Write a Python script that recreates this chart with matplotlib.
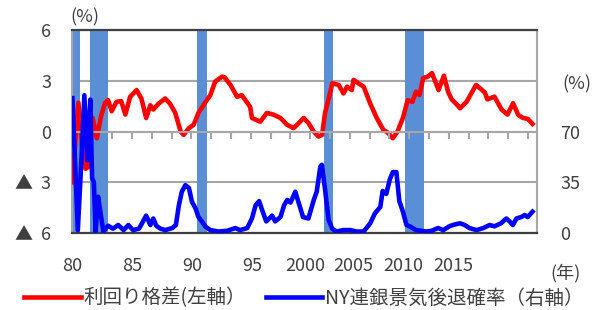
"""
Yield spread vs. NY Fed recession probability, with US recessions shaded
"""

import matplotlib
matplotlib.use('Agg')
import matplotlib.pyplot as plt

plt.rcParams['font.family'] = ['Noto Sans CJK JP', 'DejaVu Sans']

# Yield spread (left axis, %)
spread_years = [1980.0, 1980.25, 1980.5, 1980.8, 1981.1, 1981.35, 1981.7, 1982.05,
                1982.4, 1982.75, 1983.0, 1983.3, 1983.7, 1984.1, 1984.45, 1984.85,
                1985.4, 1985.8, 1986.2, 1986.55, 1986.8, 1987.25, 1987.8, 1988.2,
                1988.65, 1989.1, 1989.35, 1989.8, 1990.2, 1990.6, 1991.2, 1991.6,
                1992.0, 1992.6, 1992.8, 1993.3, 1993.85, 1994.25, 1994.95, 1995.1,
                1995.8, 1996.35, 1996.9, 1997.5, 1998.05, 1998.6, 1998.9, 1999.45,
                1999.85, 2000.3, 2000.7, 2001.0, 2001.25, 2001.7, 2001.85, 2002.4,
                2002.8, 2003.1, 2003.5, 2003.65, 2004.05, 2004.5, 2005.05, 2005.6,
                2006.15, 2006.5, 2006.95, 2007.35, 2007.8, 2008.2, 2008.6, 2008.9,
                2009.2, 2009.5, 2009.9, 2010.25, 2010.8, 2011.25, 2011.6, 2011.9,
                2012.4, 2012.6, 2013.15, 2013.95, 2014.3, 2014.7, 2014.9, 2015.5,
                2016.1, 2016.6, 2017.07, 2017.5, 2017.9, 2018.3, 2018.7]
spread_vals = [-3.0, -0.5, 1.7, -0.8, -2.2, -2.1, 0.8, -0.4,
               0.9, 1.7, 1.85, 1.2, 1.75, 1.8, 1.0, 2.05,
               2.45, 1.95, 0.8, 1.55, 1.3, 1.65, 1.95, 1.65,
               1.1, 0.0, -0.2, 0.2, 0.4, 1.1, 1.75, 2.15,
               2.95, 3.25, 3.2, 2.75, 2.05, 2.15, 1.45, 0.8,
               0.58, 1.1, 1.0, 0.8, 0.4, 0.2, 0.4, 0.8,
               0.5, 0.0, -0.3, -0.2, 1.1, 2.35, 2.85, 2.75,
               2.25, 2.65, 2.45, 3.05, 2.85, 2.65, 1.65, 0.8,
               0.1, -0.05, -0.4, 0.0, 0.8, 1.85, 1.75, 2.35,
               2.15, 3.15, 3.25, 3.45, 2.45, 3.3, 2.35, 1.9,
               1.55, 1.37, 1.75, 2.75, 2.55, 2.3, 1.9, 2.06,
               1.3, 1.0, 1.67, 0.98, 0.8, 0.75, 0.45]

# NY Fed recession probability (right axis, %)
prob_years = [1980.0, 1980.45, 1980.75, 1981.0, 1981.25, 1981.5, 1981.65, 1981.8,
              1981.95, 1982.15, 1982.3, 1982.6, 1983.0, 1983.4, 1983.85, 1984.3,
              1984.7, 1985.1, 1985.6, 1986.2, 1986.55, 1986.8, 1987.05, 1987.4,
              1987.8, 1988.4, 1988.7, 1988.95, 1989.2, 1989.5, 1989.8, 1990.05,
              1990.35, 1990.6, 1990.9, 1991.2, 1991.6, 1992.3, 1993.0, 1993.7,
              1994.1, 1994.7, 1995.1, 1995.4, 1995.7, 1995.95, 1996.3, 1996.8,
              1997.05, 1997.5, 1997.8, 1998.07, 1998.35, 1998.75, 1998.95, 1999.4,
              1999.85, 2000.3, 2000.55, 2000.85, 2000.98, 2001.25, 2001.55, 2001.85,
              2002.2, 2002.8, 2003.4, 2003.9, 2004.5, 2005.05, 2005.45, 2005.9,
              2006.1, 2006.4, 2006.7, 2006.95, 2007.25, 2007.5, 2007.8, 2008.1,
              2008.4, 2008.9, 2009.75, 2010.2, 2010.75, 2011.2, 2011.7, 2012.0,
              2012.6, 2013.0, 2013.4, 2014.0, 2014.55, 2015.1, 2015.5, 2016.05,
              2016.5, 2016.8, 2017.05, 2017.35, 2017.75, 2018.05, 2018.3, 2018.7]
prob_vals = [93, 2, 50, 95, 50, 92, 38, 35,
             1, 25, 17, 1, 5, 3, 5.5, 2,
             5.5, 2, 3, 12, 5.5, 10, 5, 3,
             2, 3.4, 5.5, 19, 28.5, 33, 31, 21.6,
             17, 11, 7.8, 4.3, 2, 1, 1.5, 3.4,
             2, 3.4, 10, 19, 22, 16, 8, 12,
             8, 11, 19, 22.8, 21, 28.5, 23, 11,
             10, 22.8, 28.5, 45.7, 47, 30, 9, 3,
             1, 2, 2, 1, 1, 6.7, 13.6, 18,
             29, 27, 37, 42, 42, 22, 14.7, 5.5,
             4.5, 2, 1, 1.5, 3.4, 2, 4.6, 5.5,
             6.7, 5.5, 3.4, 2, 3.4, 5.5, 4.6, 6.7,
             10, 7.8, 5.5, 10, 11, 12.4, 11, 14.7]

# US recessions
rec_start = [1980.0, 1981.45, 1990.5, 2001.2, 2007.95]
rec_end = [1980.6, 1982.95, 1991.3, 2001.95, 2009.6]

# Axis labels
x_labels = ['80', '85', '90', '95', '2000', '2005', '2010', '2015']
x_label_pos = [1979.96, 1985.02, 1990.06, 1995.1, 1999.6, 2003.6, 2007.8, 2012.0]
left_ticks = [6, 3, 0, -3, -6]
left_labels = ['6', '3', '0', '▲  3', '▲  6']
right_ticks = [0, 35, 70]

text_color = '#404040'
grid_color = '#a6a6a6'

fig = plt.figure(figsize=(6.08, 3.10), dpi=100)
ax = fig.add_axes([0.1184, 0.2484, 0.7648, 0.6548])
ax2 = ax.twinx()

# Recession shading
for s, e in zip(rec_start, rec_end):
    ax.axvspan(s, e, color='#5a8fd6', lw=0, zorder=1)

# Lines
line1, = ax.plot(spread_years, spread_vals, color='#ff0000', lw=3.3,
                 solid_joinstyle='round', zorder=3, label='利回り格差(左軸）')
line2, = ax2.plot(prob_years, prob_vals, color='#0000ff', lw=3.3,
                  solid_joinstyle='round', zorder=3, label='NY連銀景気後退確率（右軸）')

ax.set_xlim(1980, 2019.08)
ax.set_ylim(-6, 6)
ax2.set_ylim(0, 140)

# Left axis
ax.set_yticks(left_ticks, left_labels)
ax.tick_params(axis='y', length=0, pad=15, labelsize=13, labelcolor=text_color)
ax.set_axisbelow(True)
ax.yaxis.grid(True, color=grid_color, lw=1.5)

# Right axis
ax2.set_yticks(right_ticks)
ax2.tick_params(axis='y', length=0, pad=17, labelsize=13, labelcolor=text_color)

# x labels (major) and small ticks every 20 months (minor)
ax.set_xticks(x_label_pos, x_labels)
ax.set_xticks([1980 + k * 20 / 12 for k in range(24)], minor=True)
ax.tick_params(axis='x', which='major', length=0, pad=17, labelsize=13, labelcolor=text_color)
ax.tick_params(axis='x', which='minor', length=0)

# Zero line carries the small ticks
ax2.xaxis.set_visible(True)
ax2.spines['bottom'].set_visible(True)
ax2.spines['bottom'].set_position(('axes', 0.5))
ax2.spines['bottom'].set_color(grid_color)
ax2.spines['bottom'].set_linewidth(1.5)
ax2.xaxis.set_ticks_position('bottom')
ax2.tick_params(axis='x', which='major', length=0, labelbottom=False, labeltop=False)
ax2.tick_params(axis='x', which='minor', length=5, width=1.5, color=grid_color,
                direction='out')

# Frame
for side in ['top', 'bottom']:
    ax.spines[side].set_color(text_color)
    ax.spines[side].set_linewidth(1.6)
for side in ['left', 'right']:
    ax.spines[side].set_color(grid_color)
    ax.spines[side].set_linewidth(1.5)
for side in ['top', 'left', 'right']:
    ax2.spines[side].set_visible(False)

# Units
fig.text(85 / 608, 1 - 17 / 310, '(%)', fontsize=13, color=text_color, ha='center', va='center')
fig.text(577 / 608, 1 - 84 / 310, '(%)', fontsize=13, color=text_color, ha='center', va='center')
fig.text(565 / 608, 1 - 273 / 310, '(年)', fontsize=13, color=text_color, ha='center', va='center')

# Legend
fig.legend(handles=[line1, line2], loc='center', bbox_to_anchor=(304 / 608, 1 - 298 / 310),
           ncol=2, frameon=False, fontsize=14, handlelength=2.9, handletextpad=0.15,
           columnspacing=1.0, labelcolor=text_color, borderpad=0)

fig.savefig('out.png', dpi=100)
